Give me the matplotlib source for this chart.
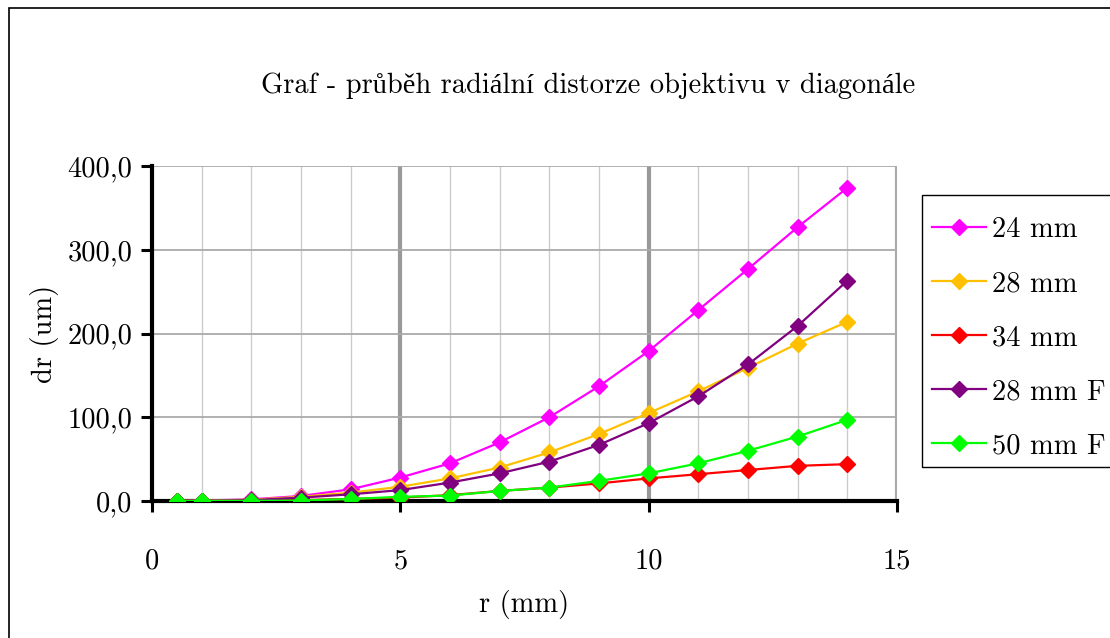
import matplotlib
matplotlib.use("Agg")
import matplotlib.pyplot as plt
from matplotlib.patches import Rectangle

plt.rcParams['font.family'] = ['cmr10', 'Liberation Serif']

r_mm = [0.5, 1, 2, 3, 4, 5, 6, 7, 8, 9, 10, 11, 12, 13, 14]
dr_24 = [0.1, 0.5, 2, 6, 14, 28, 45, 70, 100, 137, 179, 228, 277, 327, 374]
dr_28 = [0.1, 0.4, 1.5, 5, 10, 17, 27, 40, 58, 80, 105, 131, 159, 188, 214]
dr_34 = [0.0, 0.1, 0.3, 1, 2.5, 4, 7, 12, 16, 21, 27, 32, 37, 42, 44]
dr_28f = [0.1, 0.3, 1, 4, 8, 13, 22, 33, 47, 67, 93, 125, 163, 209, 263]
dr_50f = [0.0, 0.1, 0.2, 0.5, 2.4, 5, 6.5, 12, 16, 24, 33, 45, 60, 77, 97]
labels = ["24 mm", "28 mm", "34 mm", "28 mm F", "50 mm F"]
colors = ["#FF00FF", "#FFC000", "#FF0000", "#800080", "#00FF00"]
y_ticks = [0, 100, 200, 300, 400]
x_ticks = [0, 5, 10, 15]

FS = 20.5
W, H = 1110, 638


def main():
    fig = plt.figure(figsize=(W / 100, H / 100), dpi=100)
    # outer chart border
    fig.patches.append(Rectangle((9 / W, -0.1), 1.2, 1.1 - 8 / H,
                                 transform=fig.transFigure, fill=False,
                                 edgecolor="black", linewidth=1.2))
    # legend box (drawn by hand, it runs off the right edge)
    fig.patches.append(Rectangle((922 / W, 1 - 467 / H), 0.3, 272 / H,
                                 transform=fig.transFigure, fill=False,
                                 edgecolor="black", linewidth=1))
    ax = fig.add_axes([152 / W, 137 / H, 745 / W, 335 / H])

    series = [dr_24, dr_28, dr_34, dr_28f, dr_50f]
    for vals, lab, col in zip(series, labels, colors):
        ax.plot(r_mm, vals, color=col, lw=1.6, marker="D", markersize=8.5,
                label=lab, zorder=3)

    ax.set_xlim(0, 15)
    ax.set_ylim(0, 400)

    # grid: light at every mm, darker at the major ticks
    for xv in range(1, 15):
        if xv % 5 == 0:
            ax.axvline(xv, color="#999999", lw=3, zorder=1)
        else:
            ax.axvline(xv, color="#cccccc", lw=1, zorder=1)
    for yv in y_ticks[1:]:
        ax.axhline(yv, color="#aaaaaa", lw=1.3, zorder=1)

    for s in ["top", "right"]:
        ax.spines[s].set_visible(False)
    ax.axvline(15, color="#aaaaaa", lw=3, zorder=1)
    ax.spines["left"].set_linewidth(3)
    ax.spines["bottom"].set_linewidth(3)

    ax.set_xticks(x_ticks)
    ax.set_xticklabels([str(v) for v in x_ticks])
    ax.set_yticks(y_ticks)
    ax.set_yticklabels([f"{v:.1f}".replace(".", ",") for v in y_ticks])
    ax.tick_params(axis="both", direction="out", length=8, width=2.2,
                   labelsize=FS)
    ax.tick_params(axis="x", pad=26)
    ax.tick_params(axis="y", pad=6)

    ax.set_xlabel("r (mm)", fontsize=FS, labelpad=11)
    ax.set_ylabel("dr (um)", fontsize=FS, labelpad=6)
    fig.text(588 / W, 1 - 86 / H,
             "Graf - průběh radiální distorze objektivu v diagonále",
             ha="center", va="center", fontsize=FS)

    fig.legend(loc="upper left", bbox_to_anchor=(932 / W, 1 - 217 / H),
               fontsize=FS, frameon=False, borderpad=0, borderaxespad=0,
               labelspacing=0.97, handlelength=1.9, handletextpad=0.2)

    fig.savefig("out.png", dpi=100)


if __name__ == "__main__":
    main()
